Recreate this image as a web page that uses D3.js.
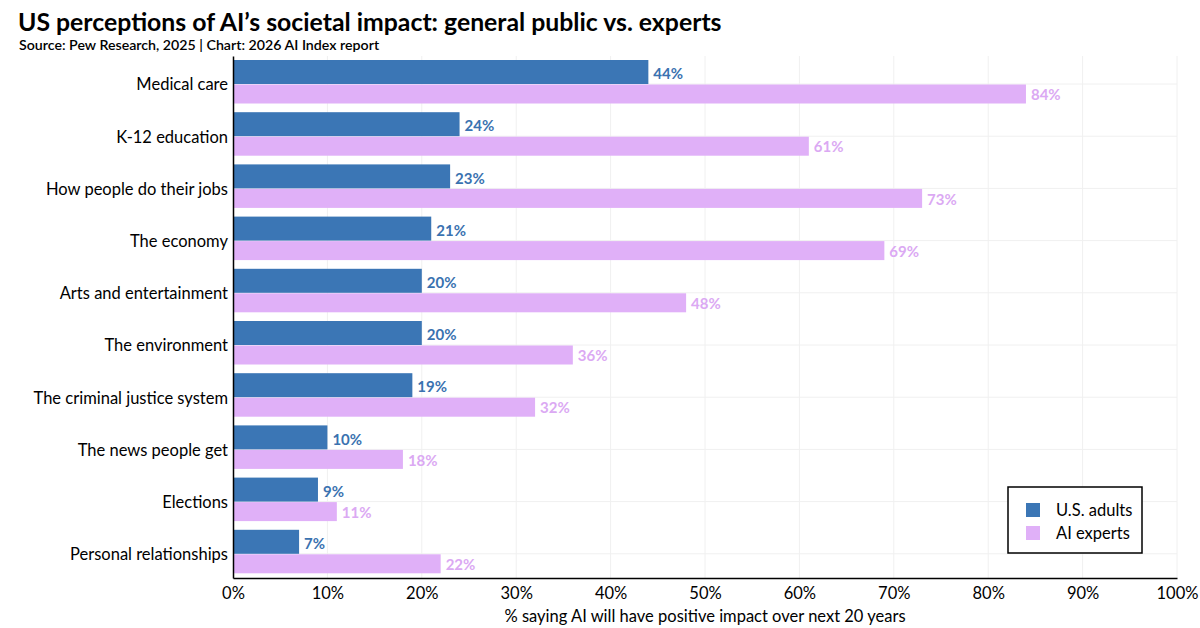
<!DOCTYPE html>
<html>
<head>
<meta charset="utf-8">
<script src="https://cdn.jsdelivr.net/npm/d3@7"></script>
<style>
  body { margin: 0; background: #fff; }
  svg text { font-family: "Lato", "Open Sans", sans-serif; }
</style>
</head>
<body>
<div id="chart"></div>
<script>
// Chart data
var categories = ["Medical care", "K-12 education", "How people do their jobs", "The economy",
  "Arts and entertainment", "The environment", "The criminal justice system",
  "The news people get", "Elections", "Personal relationships"];
var usAdults = [44, 24, 23, 21, 20, 20, 19, 10, 9, 7];
var aiExperts = [84, 61, 73, 69, 48, 36, 32, 18, 11, 22];
var seriesNames = ["U.S. adults", "AI experts"];
var xTicks = [0, 10, 20, 30, 40, 50, 60, 70, 80, 90, 100];

var width = 1200, height = 628;
var plotLeft = 233, plotRight = 1177, plotTop = 56, plotBottom = 578;
var blue = "#3b76b5", pink = "#e0b0f8";

var svg = d3.select("#chart").append("svg")
  .attr("width", width).attr("height", height);

// Title and source line
svg.append("text").attr("x", 18).attr("y", 31)
  .attr("font-size", 24.8).attr("font-weight", 700).attr("fill", "#000")
  .text("US perceptions of AI\u2019s societal impact: general public vs. experts");
svg.append("text").attr("x", 19).attr("y", 50)
  .attr("font-size", 14.2).attr("font-weight", 600).attr("fill", "#000")
  .text("Source: Pew Research, 2025 | Chart: 2026 AI Index report");

var x = d3.scaleLinear().domain([0, 100]).range([plotLeft, plotRight]);
var y = d3.scaleBand().domain(categories).range([plotTop, plotBottom]);

// light grid
var grid = svg.append("g");
grid.selectAll("line.v").data(xTicks.slice(1)).enter().append("line")
  .attr("x1", function(d) { return x(d); }).attr("x2", function(d) { return x(d); })
  .attr("y1", plotTop).attr("y2", plotBottom)
  .attr("stroke", "#f0f0f0").attr("stroke-width", 1);
grid.selectAll("line.h").data(categories).enter().append("line")
  .attr("x1", plotLeft).attr("x2", plotRight)
  .attr("y1", function(d) { return y(d) + 28; })
  .attr("y2", function(d) { return y(d) + 28; })
  .attr("stroke", "#f0f0f0").attr("stroke-width", 1);

var blueH = 24, pinkH = 19;

// U.S. adults bars
svg.selectAll("rect.us").data(usAdults).enter().append("rect")
  .attr("x", x(0))
  .attr("y", function(d, i) { return y(categories[i]) + 4; })
  .attr("width", function(d) { return x(d) - x(0); })
  .attr("height", blueH)
  .attr("fill", blue);

// AI experts bars
svg.selectAll("rect.ai").data(aiExperts).enter().append("rect")
  .attr("x", x(0))
  .attr("y", function(d, i) { return y(categories[i]) + 4 + blueH + 0.5; })
  .attr("width", function(d) { return x(d) - x(0); })
  .attr("height", pinkH)
  .attr("fill", pink);

// value labels
svg.selectAll("text.us").data(usAdults).enter().append("text")
  .attr("x", function(d) { return x(d) + 5; })
  .attr("y", function(d, i) { return y(categories[i]) + 4 + blueH / 2 + 2; })
  .attr("dy", "0.35em")
  .attr("font-size", 15).attr("font-weight", 700).attr("fill", "#3a72b0")
  .text(function(d) { return d + "%"; });
svg.selectAll("text.ai").data(aiExperts).enter().append("text")
  .attr("x", function(d) { return x(d) + 5; })
  .attr("y", function(d, i) { return y(categories[i]) + 4 + blueH + 0.5 + pinkH / 2 + 1; })
  .attr("dy", "0.35em")
  .attr("font-size", 15).attr("font-weight", 700).attr("fill", "#dba9f3")
  .text(function(d) { return d + "%"; });

// y axis
var yAxis = svg.append("g")
  .attr("transform", "translate(" + plotLeft + ",0)")
  .call(d3.axisLeft(y).tickSize(0).tickPadding(5));
yAxis.select(".domain").attr("stroke", "#000").attr("stroke-width", 1.5);
yAxis.selectAll(".tick text").attr("font-size", 16.5).attr("fill", "#000")
  .attr("dy", "0.5em")
  .attr("font-family", "Lato, 'Open Sans', sans-serif");

// x axis
var xAxis = svg.append("g")
  .attr("transform", "translate(0," + plotBottom + ")")
  .call(d3.axisBottom(x).tickValues(xTicks).tickSize(0).tickPadding(9)
    .tickFormat(function(d) { return d + "%"; }));
xAxis.select(".domain").attr("stroke", "#000").attr("stroke-width", 1.5);
xAxis.selectAll("text").attr("font-size", 16.5).attr("fill", "#000")
  .attr("font-family", "Lato, 'Open Sans', sans-serif");

svg.append("text")
  .attr("x", (plotLeft + plotRight) / 2).attr("y", 622)
  .attr("text-anchor", "middle").attr("font-size", 16.5).attr("fill", "#000")
  .text("% saying AI will have positive impact over next 20 years");

// legend
var legend = svg.append("g").attr("transform", "translate(1008,487)");
legend.append("rect").attr("width", 134).attr("height", 66)
  .attr("fill", "#fff").attr("stroke", "#000").attr("stroke-width", 1.5);
[blue, pink].forEach(function(c, i) {
  legend.append("rect").attr("x", 18).attr("y", 16 + i * 23)
    .attr("width", 14).attr("height", 14).attr("fill", c);
  legend.append("text").attr("x", 48).attr("y", 23 + i * 23)
    .attr("dy", "0.35em").attr("font-size", 16.5).attr("fill", "#000")
    .text(seriesNames[i]);
});
</script>
</body>
</html>
